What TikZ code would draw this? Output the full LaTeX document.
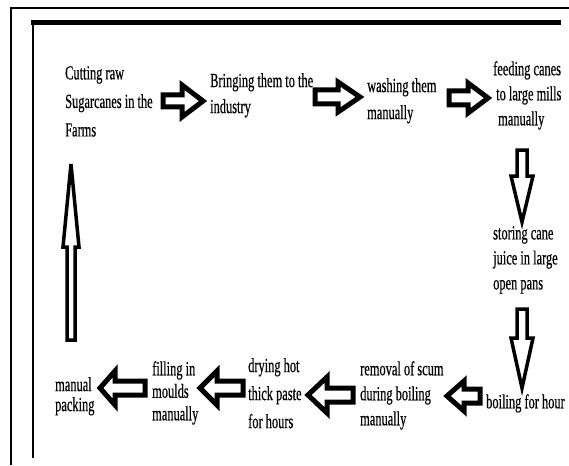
\documentclass[tikz,border=0pt]{standalone}
\usepackage{fontspec}
\setmainfont{Liberation Serif}[FakeStretch=0.62,FakeBold=0.4]
\begin{document}
\begin{tikzpicture}[x=1pt,y=-1pt,
  txt/.style={anchor=north west,inner sep=0pt,align=left,text=black},
  arrowline/.style={draw=black,fill=white,line width=5pt},
  thinarrow/.style={draw=black,fill=white,line width=3.5pt},
  pics/blk/.style args={#1/#2/#3/#4}{code={
    \draw[arrowline] (0,-#2) -- (#1-#4,-#2) -- (#1-#4,-#3) -- (#1,0) -- (#1-#4,#3) -- (#1-#4,#2) -- (0,#2) -- cycle;}},
  pics/tblk/.style args={#1/#2/#3/#4}{code={
    \draw[thinarrow] (0,-#2) -- (#1-#4,-#2) -- (#1-#4,-#3) -- (#1,0) -- (#1-#4,#3) -- (#1-#4,#2) -- (0,#2) -- cycle;}}
]
\useasboundingbox (0,0) rectangle (569,465);
% frames
\draw[line width=2pt] (11,465) -- (11,8) -- (569,8);
\draw[line width=2.5pt] (33,458) -- (33,22);
\draw[line width=5pt] (31,22.5) -- (561,22.5);
% texts
\node[txt,font={\fontsize{20}{28.5}\selectfont}] (n1) at (65,66) {Cutting raw\\Sugarcanes in the\\Farms};
\node[txt,font={\fontsize{20}{26}\selectfont}] (n2) at (210,73) {Bringing them to the\\industry};
\node[txt,font={\fontsize{20}{27}\selectfont}] (n3) at (367,78) {washing them\\manually};
\node[txt,font={\fontsize{20}{25}\selectfont}] (n4) at (493,61) {feeding canes\\\hspace{3pt}to large mills\\\hspace{5pt}manually};
\node[txt,font={\fontsize{20}{25}\selectfont}] (n5) at (493,226) {storing cane\\juice in large\\open pans};
\node[txt,font={\fontsize{20}{25}\selectfont}] (n6) at (486,394) {boiling for hour};
\node[txt,font={\fontsize{20}{25}\selectfont}] (n7) at (360,361) {removal of scum\\during boiling\\manually};
\node[txt,font={\fontsize{20}{28}\selectfont}] (n8) at (248,358) {drying hot\\thick paste\\for hours};
\node[txt,font={\fontsize{20}{22.5}\selectfont}] (n9) at (152,361) {filling in\\moulds\\manually};
\node[txt,font={\fontsize{20}{20}\selectfont}] (n10) at (55,377) {manual\\packing};
% block arrows
\pic (a1) at (163,101) {blk=40/6/16/21};
\pic (a2) at (315,97) {blk=45/7/15/22};
\pic (a3) at (449,98) {blk=39/7/15/20};
\pic[rotate=-90] (a4) at (522,150) {tblk=72/5/11/46};
\pic[rotate=-90] (a5) at (522,309) {tblk=79/5/11/50};
\pic[rotate=180] (a6) at (480,396) {blk=33/7/15/17};
\pic[rotate=180] (a7) at (353,395) {blk=45/7/18/19};
\pic[rotate=180] (a8) at (243,388) {blk=43/7/17/17};
\pic[rotate=180] (a9) at (145,388) {blk=45/7/17/15};
\pic[rotate=90] (a10) at (71,340) {tblk=176/4/8/83};
\end{tikzpicture}
\end{document}
